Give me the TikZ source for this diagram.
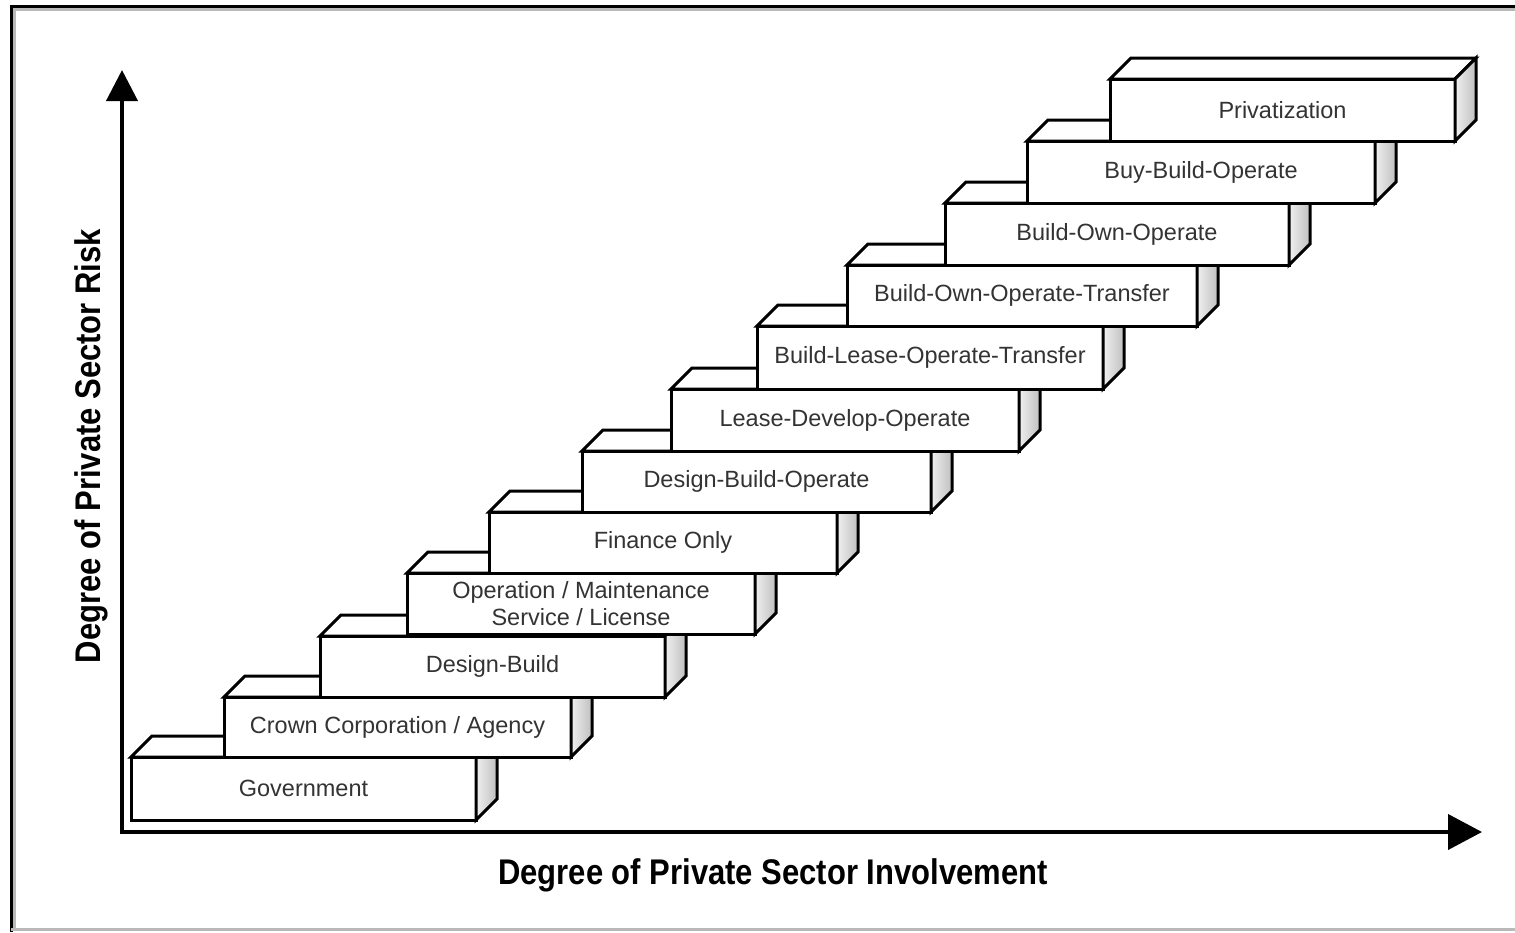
\documentclass[tikz,border=0pt]{standalone}
\usepackage{fontspec}
\setmainfont{Liberation Sans}
\usetikzlibrary{arrows.meta}
\newcommand\stairbox[6]{%
  \node[front, minimum width={(#4-#2)*1pt}, minimum height={(#5-#3)*1pt}] (#1) at ({(#2+#4)/2},{(#3+#5)/2}) {#6};
  \draw[topface] (#1.north west) -- ++(21,-21) -- ++({#4-#2},0) -- (#1.north east) -- cycle;
  \draw[sideface] (#1.north east) -- ++(21,-21) -- ++(0,{#5-#3}) -- (#1.south east) -- cycle;
}
\begin{document}
\begin{tikzpicture}[x=1pt,y=-1pt,
  front/.style={draw, line width=3pt, fill=white, inner sep=0pt, outer sep=0pt,
    font=\fontsize{23.5}{27}\selectfont, text=black!80, align=center},
  topface/.style={draw, line width=3pt, fill=white, line join=miter},
  sideface/.style={draw, line width=3pt, line join=miter, left color=gray!12, right color=gray!50},
  axis/.style={line width=4pt},
  axislabel/.style={font=\bfseries\fontsize{31}{31}\selectfont, text=black}]
\useasboundingbox (0,0) rectangle (1515,932);
% frame
\draw[black, line width=3pt] (11,932) -- (11,6) -- (1515,6);
\draw[gray!55, line width=3pt] (14.5,929) -- (14.5,9.5) -- (1515,9.5);
\draw[gray!55, line width=2.5pt] (11,929.5) -- (1515,929.5);
% axes
\coordinate (O) at (122,831);
\coordinate (ytip) at (122,70);
\coordinate (xtip) at (1482,832);
\draw[axis, -{Triangle[length=31pt, width=31pt]}] (122,833) -- (ytip);
\draw[axis, -{Triangle[length=34pt, width=35pt]}] (120,832) -- (xtip);
% boxes
\stairbox{b1}{131}{757}{476}{820}{Government}
\stairbox{b2}{224}{697}{571}{757}{Crown Corporation / Agency}
\stairbox{b3}{320}{636}{665}{697}{Design-Build}
\stairbox{b4}{407}{573}{755}{634}{Operation / Maintenance\\Service / License}
\stairbox{b5}{489}{512}{837}{573}{Finance Only}
\stairbox{b6}{582}{451}{931}{512}{Design-Build-Operate}
\stairbox{b7}{671}{389}{1019}{451}{Lease-Develop-Operate}
\stairbox{b8}{757}{326}{1103}{389}{Build-Lease-Operate-Transfer}
\stairbox{b9}{847}{265}{1197}{326}{Build-Own-Operate-Transfer}
\stairbox{b10}{945}{203}{1289}{265}{Build-Own-Operate}
\stairbox{b11}{1027}{141}{1375}{203}{Buy-Build-Operate}
\stairbox{b12}{1110}{79}{1455}{141}{Privatization}
% labels
\node[axislabel] (xlabel) at (773,875) {\scalebox{1}[1.15]{Degree of Private Sector Involvement}};
\node[axislabel, rotate=90] (ylabel) at (91,446) {\scalebox{1}[1.15]{Degree of Private Sector Risk}};
\end{tikzpicture}
\end{document}
